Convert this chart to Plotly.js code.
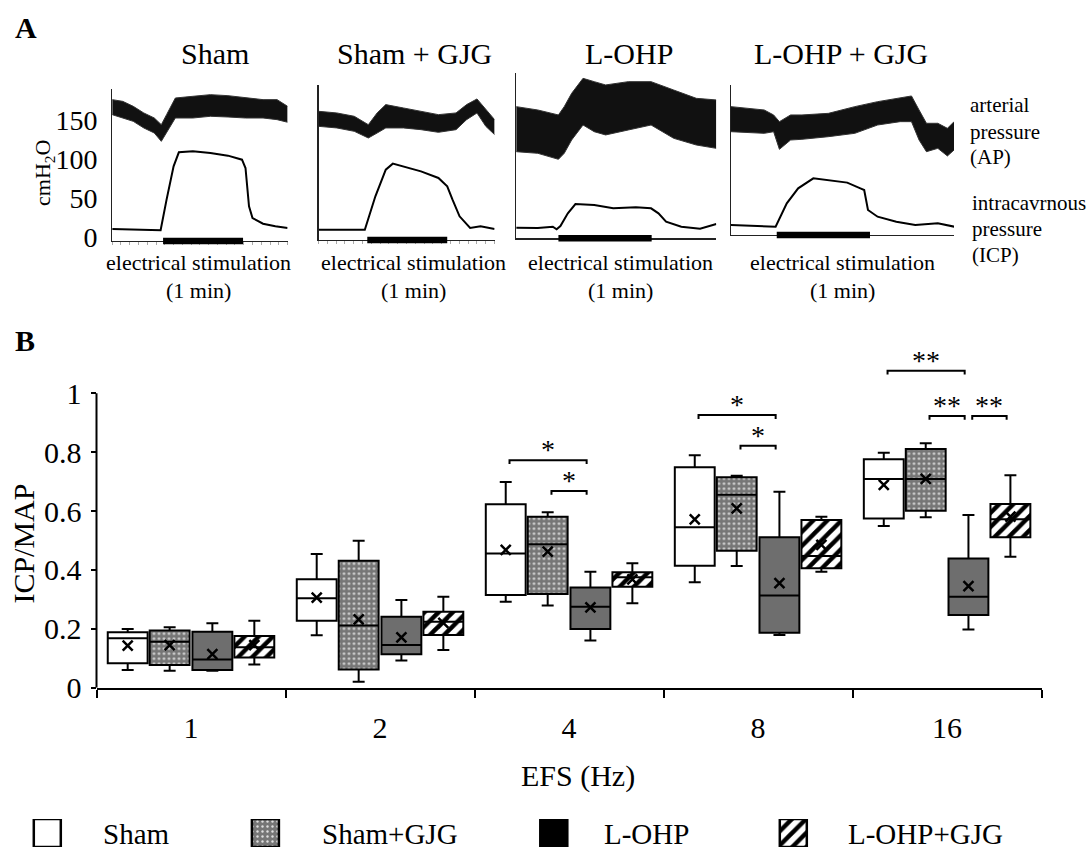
<!DOCTYPE html>
<html><head><meta charset="utf-8">
<script src="https://cdn.plot.ly/plotly-3.0.1.min.js"></script>
<style>html,body{margin:0;padding:0;background:#fff}#chart{width:1092px;height:850px}</style>
</head><body><div id="chart"></div>
<script>
// ================= DATA =================
// ---- Panel A: pressure traces (cmH2O) read from the recordings; time in % of record ----
const panelNames = ['Sham', 'Sham + GJG', 'L-OHP', 'L-OHP + GJG'];

const shamApT   = [0, 6, 12, 18, 24, 28, 31, 36, 46, 56, 66, 76, 86, 94, 100];
const shamApTop = [176.6, 174.4, 168, 159.5, 153, 144.4, 157.3, 178.7, 180.9, 183, 181.7, 178.7, 176.6, 176.6, 168];
const shamApBot = [157.3, 153, 148.7, 140.2, 133.7, 123, 133.7, 153, 153, 155.2, 154.3, 153, 153, 150.9, 147.5];
const shamIcpT  = [0, 10, 20, 27.6, 31, 35, 38, 46, 56, 66, 74, 76, 78, 80, 86, 93, 100];
const shamIcp   = [10.3, 9.4, 8.6, 8.6, 48, 90.9, 108.9, 110.2, 108, 104.6, 99.4, 88.7, 39.4, 24.4, 17.1, 13.7, 11.6];

const shamGjgApT   = [0, 10.4, 20.3, 28.3, 33.3, 38.2, 48.2, 58.2, 68.1, 78.1, 84.1, 90, 95, 100];
const shamGjgApTop = [161.6, 159.5, 155.2, 144.4, 159.5, 170.2, 165.9, 161.6, 157.3, 159.5, 170.2, 177.5, 163.7, 150.9];
const shamGjgApBot = [142.3, 140.2, 135.9, 127.3, 133.7, 140.2, 140.2, 138, 134.6, 138, 150.9, 159.5, 142.3, 131.6];
const shamGjgIcpT  = [0, 10.4, 20.3, 26.3, 32.3, 38.2, 42.2, 48.2, 58.2, 68.1, 73.1, 76.1, 80.1, 86.1, 92, 100];
const shamGjgIcp   = [9.4, 9.4, 8.6, 9.4, 52.3, 86.6, 94.3, 90.9, 84.4, 75.9, 65.2, 48, 26.6, 11.6, 13.7, 10.3];

const lohpApT   = [0, 10.8, 21.1, 24, 27.7, 33.4, 39, 44.7, 56, 67.4, 78.7, 90, 100];
const lohpApTop = [167.6, 163.3, 156.9, 167.6, 184.7, 204, 199.7, 195.5, 199.7, 199.7, 189, 178.3, 176.2];
const lohpApBot = [109.7, 107.6, 99.9, 107.6, 124.7, 144, 135.4, 131.2, 137.6, 144, 126.9, 118.3, 114];
const lohpIcpT  = [0, 10.8, 18.3, 20.2, 22.1, 25.8, 29.6, 39, 48.5, 59.8, 67.4, 71.1, 74.9, 82.5, 91.9, 100];
const lohpIcp   = [12, 11.6, 13.3, 9.9, 14.1, 30.4, 42.4, 41.1, 36.9, 38.1, 36.9, 30.4, 19.7, 13.3, 10.7, 16.7];

const lohpGjgApT   = [0, 14.9, 19.1, 21.7, 26.7, 31.8, 43.7, 55.5, 65.7, 75.8, 80.9, 84.3, 87.6, 92.7, 97, 100];
const lohpGjgApTop = [167.6, 163.3, 156.9, 148.3, 156.9, 156.9, 159, 167.6, 174, 178.3, 181.3, 163.3, 146.2, 146.2, 139.7, 148.3];
const lohpGjgApBot = [135.4, 133.3, 135.4, 112.7, 124.7, 125.6, 129, 133.3, 144, 148.3, 148.3, 124.7, 109.7, 114, 104.2, 111.9];
const lohpGjgIcpT  = [0, 11.5, 20, 25, 30.1, 36.9, 43.7, 52.1, 58, 59.7, 61.4, 65.7, 74.1, 82.6, 92.7, 100];
const lohpGjgIcp   = [15.4, 14.1, 13.3, 43.3, 62.6, 75.4, 73.3, 69.9, 62.6, 60.4, 34.7, 26.1, 19.7, 15.4, 17.6, 13.3];

// electrical stimulation period (same time units)
const stimStart = [29, 27.7, 21.1, 20.5];
const stimEnd   = [74.6, 73.1, 67.7, 62.3];
const pressureTicks = [0, 50, 100, 150];

// ---- Panel B: ICP/MAP box statistics ----
const efsCategories = ['1', '2', '4', '8', '16'];
const groupNames = ['Sham', 'Sham+GJG', 'L-OHP', 'L-OHP+GJG'];

const shamUpper  = [0.199, 0.454, 0.699, 0.790, 0.798];
const shamQ3     = [0.188, 0.368, 0.623, 0.749, 0.776];
const shamMedian = [0.168, 0.304, 0.456, 0.545, 0.709];
const shamQ1     = [0.083, 0.227, 0.315, 0.414, 0.575];
const shamLower  = [0.060, 0.178, 0.292, 0.358, 0.549];
const shamMean   = [0.143, 0.306, 0.468, 0.572, 0.689];

const shamGjgUpper  = [0.205, 0.499, 0.596, 0.720, 0.830];
const shamGjgQ3     = [0.194, 0.431, 0.581, 0.715, 0.811];
const shamGjgMedian = [0.156, 0.211, 0.487, 0.655, 0.709];
const shamGjgQ1     = [0.077, 0.062, 0.318, 0.465, 0.601];
const shamGjgLower  = [0.058, 0.020, 0.279, 0.413, 0.579];
const shamGjgMean   = [0.145, 0.232, 0.462, 0.609, 0.709];

const lohpUpper  = [0.219, 0.298, 0.394, 0.666, 0.587];
const lohpQ3     = [0.190, 0.241, 0.340, 0.511, 0.439];
const lohpMedian = [0.096, 0.145, 0.275, 0.313, 0.309];
const lohpQ1     = [0.060, 0.114, 0.199, 0.187, 0.247];
const lohpLower  = [0.058, 0.092, 0.160, 0.179, 0.198];
const lohpMean   = [0.114, 0.171, 0.273, 0.355, 0.345];

const lohpGjgUpper  = [0.227, 0.309, 0.423, 0.581, 0.722];
const lohpGjgQ3     = [0.176, 0.258, 0.392, 0.570, 0.624];
const lohpGjgMedian = [0.137, 0.224, 0.375, 0.447, 0.572];
const lohpGjgQ1     = [0.103, 0.179, 0.343, 0.406, 0.511];
const lohpGjgLower  = [0.079, 0.128, 0.287, 0.394, 0.445];
const lohpGjgMean   = [0.145, 0.220, 0.368, 0.485, 0.581];

const yTickVals   = [0, 0.2, 0.4, 0.6, 0.8, 1];
const yTickLabels = ['0', '0.2', '0.4', '0.6', '0.8', '1'];

// significance: category index, group from, group to, bracket level, label
const sigCat   = [2, 2, 3, 3, 4, 4, 4];
const sigFrom  = [0, 1, 0, 1, 0, 1, 2];
const sigTo    = [2, 2, 2, 2, 2, 2, 3];
const sigLevel = [0.773, 0.668, 0.926, 0.822, 1.077, 0.923, 0.923];
const sigLabel = ['*', '*', '*', '*', '**', '**', '**'];

// ================= LAYOUT HELPERS =================
const W = 1092, H = 850;
const FONT = '"Liberation Serif", "Times New Roman", Times, serif';
const px = x => x / W;
const py = y => 1 - y / H;

const panelBox = [
  {l: 112.2, r: 287.6, t: 89.3, b: 241},
  {l: 318.5, r: 494.6, t: 85,   b: 240},
  {l: 516.2, r: 716.3, t: 73.3, b: 238.3},
  {l: 731,   r: 954.1, t: 85,   b: 235}
];
const zeroPx = 237, pxPerUnit = 0.7778;

const apT   = [shamApT, shamGjgApT, lohpApT, lohpGjgApT];
const apTop = [shamApTop, shamGjgApTop, lohpApTop, lohpGjgApTop];
const apBot = [shamApBot, shamGjgApBot, lohpApBot, lohpGjgApBot];
const icpT  = [shamIcpT, shamGjgIcpT, lohpIcpT, lohpGjgIcpT];
const icp   = [shamIcp, shamGjgIcp, lohpIcp, lohpGjgIcp];

const groupOffset = [-0.335, -0.113, 0.113, 0.335];
const boxW = 0.211;
const stats = [
  {q1: shamQ1, med: shamMedian, q3: shamQ3, lo: shamLower, hi: shamUpper, mean: shamMean},
  {q1: shamGjgQ1, med: shamGjgMedian, q3: shamGjgQ3, lo: shamGjgLower, hi: shamGjgUpper, mean: shamGjgMean},
  {q1: lohpQ1, med: lohpMedian, q3: lohpQ3, lo: lohpLower, hi: lohpUpper, mean: lohpMean},
  {q1: lohpGjgQ1, med: lohpGjgMedian, q3: lohpGjgQ3, lo: lohpGjgLower, hi: lohpGjgUpper, mean: lohpGjgMean}
];
const boxFill = [
  {color: 'white'},
  {color: '#808080', pattern: {shape: '.', bgcolor: '#767676', fgcolor: '#dedede', size: 5, solidity: 0.18}},
  {color: '#6e6e6e'},
  {color: 'white', pattern: {shape: '/', bgcolor: 'white', fgcolor: 'black', size: 10, solidity: 0.45}}
];
const legendFill = [boxFill[0], boxFill[1], {color: 'black'}, boxFill[3]];
const legendSymX = [47.3, 265.4, 553.8, 793.3];
const legendTextX = [101, 320, 602, 846];

const bars = [], boxes = [], scatters = [];

// ---- Panel B boxes ----
stats.forEach((s, g) => {
  const xs = efsCategories.map((c, i) => i + groupOffset[g]);
  bars.push({type: 'bar', x: xs, base: s.q1, y: s.q3.map((v, i) => v - s.q1[i]), width: boxW,
    marker: Object.assign({}, boxFill[g], {line: {width: 0}}), xaxis: 'x9', yaxis: 'y9', hoverinfo: 'skip'});
  boxes.push({type: 'box', x: xs, q1: s.q1, median: s.med, q3: s.q3, lowerfence: s.lo, upperfence: s.hi,
    width: boxW, whiskerwidth: 0.3, fillcolor: 'rgba(0,0,0,0)', line: {color: 'black', width: 2},
    boxpoints: false, xaxis: 'x9', yaxis: 'y9', hoverinfo: 'skip', name: groupNames[g]});
  scatters.push({type: 'scatter', mode: 'markers', x: xs, y: s.mean, xaxis: 'x9', yaxis: 'y9',
    marker: {symbol: 'x-thin', size: 10, color: 'black', line: {color: 'black', width: 2.5}}, hoverinfo: 'skip'});
});

// ---- Legend glyphs (mini axis) ----
groupNames.forEach((nm, g) => {
  bars.push({type: 'bar', x: [legendSymX[g]], y: [1], base: [0], width: 27,
    marker: Object.assign({}, legendFill[g], {line: {width: 2.5, color: 'black'}}),
    xaxis: 'x10', yaxis: 'y10', hoverinfo: 'skip'});
});

// ---- Significance brackets ----
const bx = [], by = [];
const inset = 0.02, drop = 0.013;
sigCat.forEach((c, k) => {
  const x0 = c + groupOffset[sigFrom[k]] + inset, x1 = c + groupOffset[sigTo[k]] - inset;
  const yl = sigLevel[k];
  bx.push(x0, x0, x1, x1, null);
  by.push(yl - drop, yl, yl, yl - drop, null);
});
scatters.push({type: 'scatter', mode: 'lines', x: bx, y: by, xaxis: 'x9', yaxis: 'y9',
  line: {color: 'black', width: 2}, hoverinfo: 'skip', connectgaps: false});

// ---- Panel A traces ----
for (let i = 0; i < 4; i++) {
  const xa = 'x' + (i + 1), ya = 'y' + (i + 1);
  scatters.push({type: 'scatter', mode: 'lines', x: apT[i], y: apBot[i], xaxis: xa, yaxis: ya,
    line: {color: '#333', width: 1}, hoverinfo: 'skip'});
  scatters.push({type: 'scatter', mode: 'lines', x: apT[i], y: apTop[i], xaxis: xa, yaxis: ya,
    fill: 'tonexty', fillcolor: '#111', line: {color: '#333', width: 1}, hoverinfo: 'skip'});
  scatters.push({type: 'scatter', mode: 'lines', x: icpT[i], y: icp[i], xaxis: xa, yaxis: ya,
    line: {color: 'black', width: 2}, hoverinfo: 'skip'});
  scatters.push({type: 'scatter', mode: 'lines', x: [stimStart[i], stimEnd[i]], y: [0, 0],
    xaxis: xa, yaxis: 'y' + (i + 5), line: {color: 'black', width: 6.5}, hoverinfo: 'skip'});
}

const data = bars.concat(boxes, scatters);

const layout = {
  width: W, height: H, margin: {l: 0, r: 0, t: 0, b: 0},
  paper_bgcolor: 'white', plot_bgcolor: 'rgba(0,0,0,0)',
  showlegend: false, barmode: 'overlay', boxmode: 'overlay',
  font: {family: FONT, color: 'black'},
  annotations: [], shapes: []
};

for (let i = 0; i < 4; i++) {
  const b = panelBox[i];
  layout['xaxis' + (i + 1)] = {
    domain: [px(b.l), px(b.r)], range: [0, 100], anchor: 'y' + (i + 1),
    showline: true, linecolor: '#222', linewidth: 1.2, showgrid: false, zeroline: false,
    showticklabels: false, ticks: i < 2 ? 'outside' : '', ticklen: 3, tickcolor: '#aaa', tickwidth: 1,
    tickmode: 'linear', tick0: 0, dtick: 5, fixedrange: true
  };
  layout['yaxis' + (i + 1)] = {
    domain: [py(b.b), py(b.t)], anchor: 'x' + (i + 1),
    range: [(zeroPx - b.b) / pxPerUnit, (zeroPx - b.t) / pxPerUnit],
    showline: true, linecolor: '#222', linewidth: 1.2, showgrid: false, zeroline: false,
    showticklabels: i === 0, tickmode: 'array', tickvals: pressureTicks, ticks: 'outside', ticklen: 8,
    tickcolor: 'rgba(0,0,0,0)', tickfont: {size: 28, family: FONT}, fixedrange: true
  };
  layout['yaxis' + (i + 5)] = {
    domain: [py(b.b + 5), py(b.b - 5)], anchor: 'x' + (i + 1), range: [-1, 1], visible: false, fixedrange: true
  };
}

layout.xaxis9 = {
  domain: [px(96.5), px(1041.6)], range: [-0.5, 4.5], anchor: 'y9',
  showline: true, linecolor: 'black', linewidth: 2, showgrid: false, zeroline: false,
  tickmode: 'array', tickvals: efsCategories.map((c, i) => i), ticktext: efsCategories,
  ticks: '', ticklabelstandoff: 12, tickfont: {size: 30, family: FONT},
  minor: {tickmode: 'linear', tick0: -0.5, dtick: 1, ticks: 'outside', ticklen: 8, tickwidth: 2, tickcolor: 'black', showgrid: false},
  fixedrange: true
};
layout.yaxis9 = {
  domain: [py(687.7), py(346.2)], range: [0, 1.16], anchor: 'x9',
  showline: false, showgrid: false, zeroline: false,
  tickmode: 'array', tickvals: yTickVals, ticktext: yTickLabels,
  ticks: 'outside', ticklen: 5, tickwidth: 2, tickcolor: 'black', ticklabelstandoff: 3,
  tickfont: {size: 30, family: FONT}, fixedrange: true
};
layout.xaxis10 = {domain: [0, 1], range: [0, W], anchor: 'y10', visible: false, fixedrange: true};
layout.yaxis10 = {domain: [py(847), py(819)], range: [0, 1], anchor: 'x10', visible: false, fixedrange: true};

// y spine of panel B (0 to 1 only)
layout.shapes.push({type: 'line', xref: 'x9 domain', yref: 'y9', x0: 0, x1: 0, y0: 0, y1: 1,
  line: {color: 'black', width: 2}});

// ---- Text ----
const ann = (text, x, y, size, extra) => layout.annotations.push(Object.assign({
  text: text, x: px(x), y: py(y), xref: 'paper', yref: 'paper', showarrow: false,
  xanchor: 'center', yanchor: 'middle', font: {family: FONT, size: size, color: 'black'}
}, extra || {}));

ann('<b>A</b>', 13, 27.5, 30, {xanchor: 'left'});
ann('<b>B</b>', 13, 340, 30, {xanchor: 'left'});
const titleX = [215, 414.5, 628.7, 841];
panelNames.forEach((t, i) => ann(t, titleX[i], 53, 30));
const stimX = [198.4, 413, 620.4, 842];
stimX.forEach(x => { ann('electrical stimulation', x, 263, 22); ann('(1 min)', x, 290, 22); });
ann('cmH<sub>2</sub>O', 44, 173, 22, {textangle: -90});
ann('arterial', 968, 105, 21, {xanchor: 'left'});
ann('pressure', 968, 131.7, 21, {xanchor: 'left'});
ann('(AP)', 968, 156.7, 21, {xanchor: 'left'});
ann('intracavrnous', 970, 203, 21, {xanchor: 'left'});
ann('pressure', 970, 229, 21, {xanchor: 'left'});
ann('(ICP)', 970, 255, 21, {xanchor: 'left'});
ann('ICP/MAP', 22.6, 544, 30, {textangle: -90});
ann('EFS (Hz)', 578, 776, 30);
groupNames.forEach((nm, g) => ann(nm, legendTextX[g], 834, 29, {xanchor: 'left'}));

// significance labels
sigCat.forEach((c, k) => {
  const xm = c + (groupOffset[sigFrom[k]] + groupOffset[sigTo[k]]) / 2;
  layout.annotations.push({text: sigLabel[k], x: xm, y: sigLevel[k] + 0.035, xref: 'x9', yref: 'y9',
    showarrow: false, xanchor: 'center', yanchor: 'middle', font: {family: FONT, size: 28, color: 'black'}});
});

Plotly.newPlot('chart', data, layout, {staticPlot: true, displayModeBar: false});
</script>
</body></html>
